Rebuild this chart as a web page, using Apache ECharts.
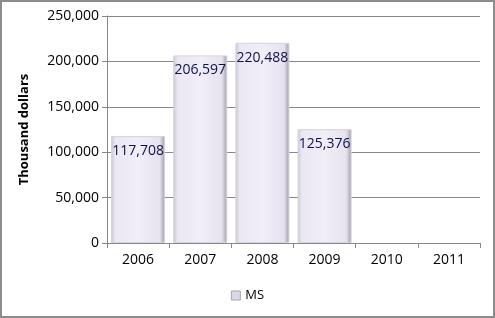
<!DOCTYPE html>
<html><head><meta charset="utf-8">
<script src="https://cdn.jsdelivr.net/npm/echarts@6/dist/echarts.min.js"></script>
<style>html,body{margin:0;padding:0;background:#fff}#c{width:495px;height:318px;box-sizing:border-box;border:2px solid #8c8c8c}</style>
</head><body><div id="c"></div>
<script>
var categories = ['2006','2007','2008','2009','2010','2011'];
var msValues = [117708, 206597, 220488, 125376, null, null];
var yTicks = [0, 50000, 100000, 150000, 200000, 250000];

var chart = echarts.init(document.getElementById('c'));
var font = 'Open Sans, sans-serif';
chart.setOption({
  animation: false,
  grid: {left: 105, right: 13, top: 14, bottom: 73},
  legend: {
    bottom: 9, left: 'center', itemWidth: 9, itemHeight: 9, itemGap: 4,
    textStyle: {fontFamily: font, fontSize: 13, color: '#000'},
    data: [{name: 'MS', icon: 'rect', itemStyle: {color: '#dcd8e6', borderColor: '#a8a4b2', borderWidth: 1}}]
  },
  xAxis: {
    type: 'category', data: categories,
    axisLine: {lineStyle: {color: '#888'}},
    axisTick: {show: true, length: 5, lineStyle: {color: '#888'}},
    axisLabel: {fontFamily: font, fontSize: 14, color: '#000', margin: 10}
  },
  yAxis: {
    type: 'value', min: 0, max: 250000, interval: 50000,
    name: 'Thousand dollars', nameLocation: 'middle', nameGap: 76,
    nameTextStyle: {fontFamily: font, fontSize: 13, fontWeight: 'bold', color: '#000'},
    axisLine: {show: true, lineStyle: {color: '#888'}},
    axisTick: {show: true, length: 5, inside: false, lineStyle: {color: '#888'}},
    splitLine: {lineStyle: {color: '#888'}},
    axisLabel: {fontFamily: font, fontSize: 14, color: '#000', margin: 8,
      formatter: function(v){ return v.toLocaleString('en-US'); }}
  },
  series: [{
    name: 'MS', type: 'bar', data: msValues, barWidth: 54,
    itemStyle: {
      color: new echarts.graphic.LinearGradient(0, 0, 1, 0, [
        {offset: 0, color: '#c9c5d2'},
        {offset: 0.08, color: '#ebe7f3'},
        {offset: 0.5, color: '#f1eef8'},
        {offset: 0.9, color: '#e6e2ee'},
        {offset: 1, color: '#9f9ba8'}
      ]),
      borderColor: '#d6d2de', borderWidth: 1
    },
    label: {
      show: true, position: 'insideTop', distance: 8,
      fontFamily: font, fontSize: 14, color: '#10104a',
      formatter: function(p){ return p.value == null ? '' : p.value.toLocaleString('en-US'); }
    }
  }]
});
</script></body></html>
